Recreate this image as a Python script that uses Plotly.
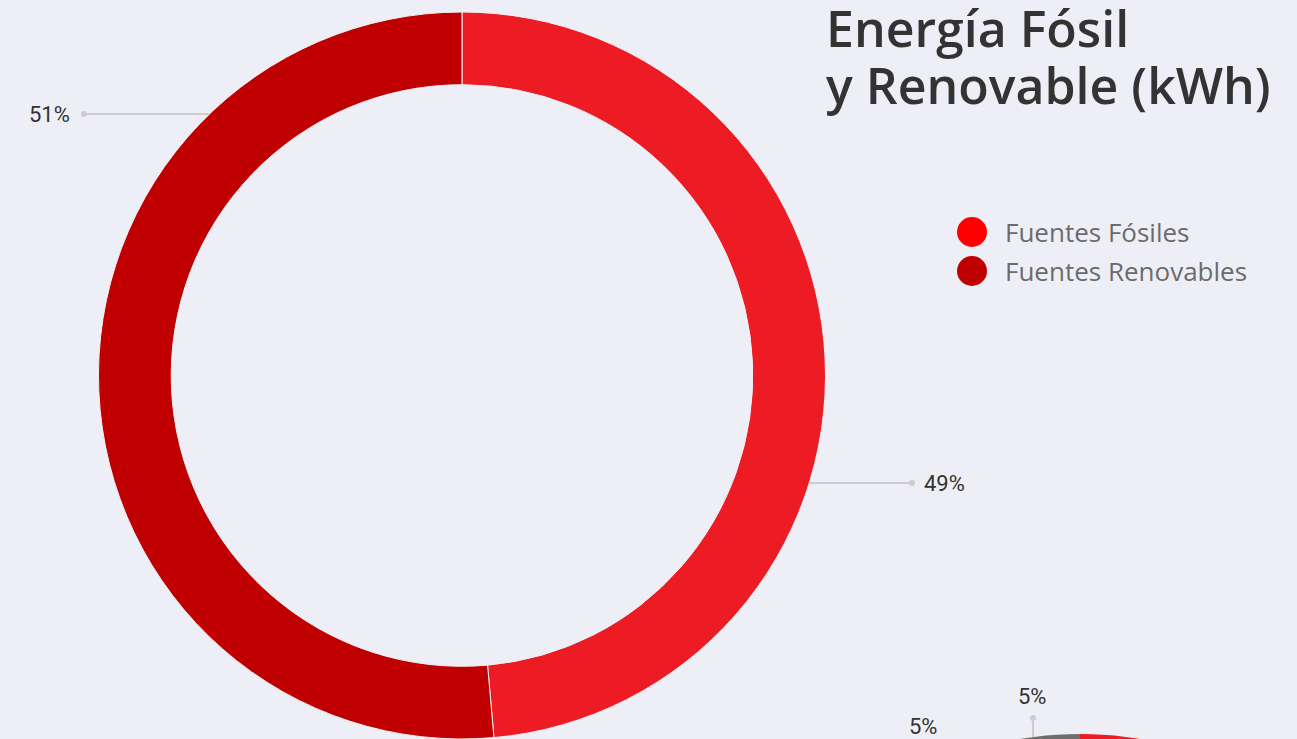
import math
import plotly.graph_objects as go

# --- data ---
fuentes = ["Fuentes Fósiles", "Fuentes Renovables"]
fuentes_kwh = [48.6, 51.4]
fuentes_colores = ["#ED1C24", "#C00000"]
leyenda_colores = ["#FF0000", "#C00000"]

# second chart (only its top edge shows in the frame)
desglose = ["Fuente A", "Fuente B", "Fuente C"]
desglose_kwh = [90, 5, 5]
desglose_colores = ["#ED1C24", "#C00000", "#6E6E6E"]

titulo = ["Energía Fósil", "y Renovable (kWh)"]

W, H = 1297, 739


def px(x):
    return x / W


def py(y):
    return 1 - y / H


def pct(vals):
    tot = sum(vals)
    return [f"{round(v / tot * 100)}%" for v in vals]


BG = "#EEEFF6"
fig = go.Figure()

# main donut, touching the bottom edge of the figure
top = 12
R = (H - top) / 2
cx, cy = 462, top + R
fig.add_trace(go.Pie(
    labels=fuentes, values=fuentes_kwh, sort=False, direction="clockwise", rotation=0,
    hole=0.8, marker=dict(colors=fuentes_colores, line=dict(color=BG, width=1)),
    textinfo="none", showlegend=False, hoverinfo="label+percent",
    domain=dict(x=[px(cx - R), px(cx + R)], y=[0, py(top)])
))

shapes = []
annotations = []
lead = dict(color="#CCCCCC", width=2)
lab_font = dict(family="Roboto", size=22, color="#333333")


def dot(x, y):
    shapes.append(dict(type="circle", xref="paper", yref="paper", x0=px(x - 3), x1=px(x + 3),
                       y0=py(y + 3), y1=py(y - 3), fillcolor="#CCCCCC", line=dict(width=0)))


# leader lines for the main donut labels
p1 = pct(fuentes_kwh)
y = 114
xe = cx - math.sqrt(R ** 2 - (y - cy) ** 2)
shapes.append(dict(type="line", xref="paper", yref="paper", x0=px(84), x1=px(xe), y0=py(y), y1=py(y), line=lead, layer="below"))
dot(84, y)
annotations.append(dict(x=px(72), y=py(y), xref="paper", yref="paper", text=p1[1], showarrow=False,
                        xanchor="right", yanchor="middle", font=lab_font))
y = 483
xe = cx + math.sqrt(R ** 2 - (y - cy) ** 2)
shapes.append(dict(type="line", xref="paper", yref="paper", x0=px(xe), x1=px(912), y0=py(y), y1=py(y), line=lead, layer="below"))
dot(912, y)
annotations.append(dict(x=px(922), y=py(y), xref="paper", yref="paper", text=p1[0], showarrow=False,
                        xanchor="left", yanchor="middle", font=lab_font))

# second donut: sits below the frame, only its top rim is visible
cx2, cy2, R2 = 1080, 1099, 365
tot2 = sum(desglose_kwh)
a0 = 0.0
for v, col in zip(desglose_kwh, desglose_colores):
    a1 = a0 + v / tot2 * 2 * math.pi
    n = max(8, int(v / tot2 * 200))
    outer = [(cx2 + R2 * math.sin(a0 + (a1 - a0) * k / n), cy2 - R2 * math.cos(a0 + (a1 - a0) * k / n)) for k in range(n + 1)]
    inner = [(cx2 + 0.8 * R2 * math.sin(a1 - (a1 - a0) * k / n), cy2 - 0.8 * R2 * math.cos(a1 - (a1 - a0) * k / n)) for k in range(n + 1)]
    pts = outer + inner
    path = "M " + " L ".join(f"{px(x):.5f},{py(y):.5f}" for x, y in pts) + " Z"
    shapes.append(dict(type="path", xref="paper", yref="paper", path=path, fillcolor=col, line=dict(width=0), layer="below"))
    a0 = a1

p2 = pct(desglose_kwh)
x = 1033
ye = cy2 - math.sqrt(R2 ** 2 - (x - cx2) ** 2)
shapes.append(dict(type="line", xref="paper", yref="paper", x0=px(x), x1=px(x), y0=py(718), y1=py(ye), line=lead, layer="below"))
dot(x, 718)
annotations.append(dict(x=px(1032), y=py(696), xref="paper", yref="paper", text=p2[2], showarrow=False,
                        xanchor="center", yanchor="middle", font=lab_font))
annotations.append(dict(x=px(923), y=py(726), xref="paper", yref="paper", text=p2[1], showarrow=False,
                        xanchor="center", yanchor="middle", font=lab_font))

# title, one annotation per line
for i, line in enumerate(titulo):
    annotations.append(dict(x=px(824), y=py(28 + i * 57), xref="paper", yref="paper",
                            text=line, showarrow=False,
                            xanchor="left", yanchor="middle", align="left",
                            font=dict(family="Open Sans", size=50, weight=600, color="#333333")))

# legend drawn by hand (large round swatches)
for i, (name, col) in enumerate(zip(fuentes, leyenda_colores)):
    yy = 232 + i * 39
    shapes.append(dict(type="circle", xref="paper", yref="paper", x0=px(957), x1=px(987),
                       y0=py(yy + 15), y1=py(yy - 15), fillcolor=col, line=dict(width=0)))
    annotations.append(dict(x=px(1003), y=py(yy), xref="paper", yref="paper", text=name, showarrow=False,
                            xanchor="left", yanchor="middle", font=dict(family="Open Sans", size=26, color="#6B6B6B")))

fig.update_layout(
    width=W, height=H,
    margin=dict(l=0, r=0, t=0, b=0),
    paper_bgcolor=BG, plot_bgcolor=BG,
    shapes=shapes, annotations=annotations,
    showlegend=False
)

fig.write_html("out.html", config={"displayModeBar": False},
               post_script="document.body.style.margin='0';document.body.style.overflow='hidden';")
